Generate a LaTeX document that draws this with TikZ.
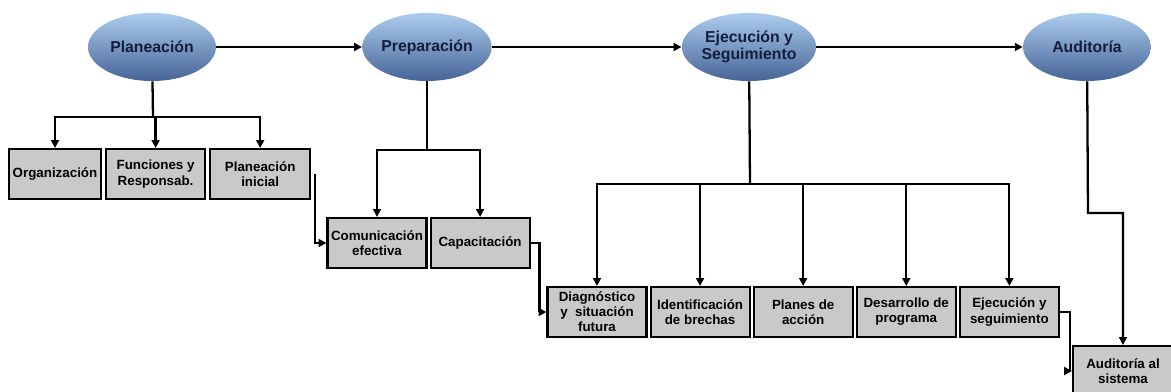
\documentclass[tikz,border=0pt]{standalone}
\usepackage{fontspec}
\setmainfont{Liberation Sans}
\usepackage{xcolor}
\usetikzlibrary{shapes.geometric, arrows.meta, positioning}
\definecolor{phasetop}{RGB}{172,204,238}
\definecolor{phasemid}{RGB}{138,178,224}
\definecolor{phasebot}{RGB}{70,100,150}
\definecolor{phasetext}{RGB}{20,30,60}
\definecolor{taskcolor}{RGB}{201,201,201}

\begin{document}
\begin{tikzpicture}[
    x=0.02cm, y=-0.02cm,
    phase/.style={ellipse, minimum width=2.56cm, minimum height=1.36cm, inner sep=0pt,
        top color=phasetop, middle color=phasemid, bottom color=phasebot,
        text=phasetext, align=center, font=\fontsize{9}{10}\selectfont\bfseries},
    task/.style={rectangle, draw, line width=1.2pt, fill=taskcolor, minimum width=1.98cm,
        minimum height=1cm, inner sep=1pt, align=center,
        font=\fontsize{7.6}{8.6}\selectfont\bfseries},
    line/.style={line width=1.3pt},
    arrow/.style={-{Triangle[length=4.5pt, width=4.5pt]}, line width=1.3pt}
]
\useasboundingbox (0,0) rectangle (1171,392);

% Phases
\node[phase] (plan) at (152,47) {Planeación};
\node[phase] (prep) at (427,47) {Preparación};
\node[phase] (ejec) at (749,47) {Ejecución y\\Seguimiento};
\node[phase] (audit) at (1087,47) {Auditoría};

% Tasks
\node[task, minimum width=1.84cm] (org) at (55,174) {Organización};
\node[task, right=0.06cm of org] (func) {Funciones y\\Responsab.};
\node[task, minimum width=2cm, right=0.06cm of func] (pini) {Planeación\\inicial};

\node[task] (comu) at (377,243) {Comunicación\\efectiva};
\node[task, right=0.04cm of comu] (capa) {Capacitación};

\node[task] (diag) at (597,312) {Diagnóstico\\y\ \ situación\\futura};
\node[task, right=0.04cm of diag] (iden) {Identificación\\de brechas};
\node[task, right=0.04cm of iden] (plac) {Planes de\\acción};
\node[task, right=0.04cm of plac] (desa) {Desarrollo de\\programa};
\node[task, right=0.04cm of desa] (ejsg) {Ejecución y\\seguimiento};

\node[task, minimum width=2cm] (ausi) at (1123,371) {Auditoría al\\sistema};

% Bends
\coordinate (planbus) at (153,117);
\coordinate (prepbus) at (427,150);
\coordinate (ejecbus) at (750,184);
\coordinate (auditbend) at (1088,213);
\coordinate (freetop) at (315,174);

% Arrows
\draw[arrow] (plan) -- (prep);
\draw[arrow] (prep) -- (ejec);
\draw[arrow] (ejec) -- (audit);

\draw[line] (plan) -- (planbus);
\foreach \t in {org, func, pini}
    \draw[arrow] (planbus) -| (\t);

\draw[line] (prep) -- (prepbus);
\foreach \t in {comu, capa}
    \draw[arrow] (prepbus) -| (\t);

\draw[line] (ejec) -- (ejecbus);
\foreach \t in {diag, iden, plac, desa, ejsg}
    \draw[arrow] (ejecbus) -| (\t);

\draw[arrow] (audit) -- (auditbend) -| (ausi);

\draw[arrow] (freetop) |- (comu);
\draw[arrow] (capa.east) -- ++(9,0) |- (diag);
\draw[arrow] (ejsg.east) -- ++(10,0) |- (ausi);

\end{tikzpicture}
\end{document}
